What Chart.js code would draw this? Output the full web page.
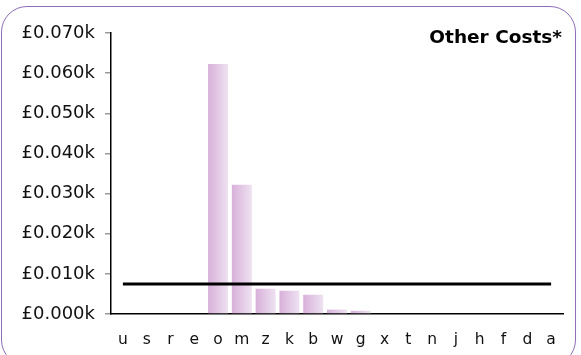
<!DOCTYPE html>
<html>
<head>
<meta charset="utf-8">
<script src="https://cdn.jsdelivr.net/npm/chart.js@4"></script>
<style>
  html, body { margin: 0; padding: 0; background: #fff; }
  #wrap { position: relative; width: 581px; height: 355px; overflow: hidden; }
  #frame {
    position: absolute; left: 1px; top: 6px; width: 575px; height: 360px;
    border: 1.5px solid #8f6db8; border-radius: 26px; box-sizing: border-box;
  }
  canvas { position: absolute; left: 0; top: 0; }
</style>
</head>
<body>
<div id="wrap">
  <div id="frame"></div>
  <canvas id="chart" width="581" height="355"></canvas>
</div>
<script>
const categories = ['u', 's', 'r', 'e', 'o', 'm', 'z', 'k', 'b', 'w', 'g', 'x', 't', 'n', 'j', 'h', 'f', 'd', 'a'];
const costValues = [0, 0, 0, 0, 0.0623, 0.0322, 0.0063, 0.0058, 0.0048, 0.0011, 0.0008, 0, 0, 0, 0, 0, 0, 0, 0];
const averageValue = 0.00746;
const yTicks = [0, 0.01, 0.02, 0.03, 0.04, 0.05, 0.06, 0.07];
const chartTitle = 'Other Costs*';

const averageLine = categories.map(() => averageValue);

const titlePlugin = {
    id: 'cornerTitle',
    afterDraw(chart) {
        const ctx = chart.ctx;
        ctx.save();
        ctx.font = 'bold 18.5px "DejaVu Sans"';
        ctx.fillStyle = '#000';
        ctx.textAlign = 'right';
        ctx.textBaseline = 'middle';
        ctx.fillText(chartTitle, 562, 38);
        ctx.restore();
    }
};

function barGradient(context) {
    const chart = context.chart;
    if (!chart.chartArea) return '#e0c4e3';
    const x = chart.scales.x;
    const center = x.getPixelForValue(context.dataIndex);
    const half = 10;
    const g = chart.ctx.createLinearGradient(center - half, 0, center + half, 0);
    g.addColorStop(0, '#d8b0db');
    g.addColorStop(1, '#eee2f0');
    return g;
}

const ctx = document.getElementById('chart').getContext('2d');
const myChart = new Chart(ctx, {
    data: {
        labels: categories,
        datasets: [{
            type: 'line',
            data: averageLine,
            borderColor: '#000',
            borderWidth: 3,
            pointRadius: 0,
            fill: false,
            order: 0
        }, {
            type: 'bar',
            data: costValues,
            backgroundColor: barGradient,
            borderWidth: 0,
            barPercentage: 0.84,
            categoryPercentage: 1,
            order: 1
        }]
    },
    options: {
        responsive: false,
        animation: false,
        events: [],
        layout: { padding: { left: 0, right: 18, top: 33, bottom: 0 } },
        plugins: {
            legend: { display: false },
            tooltip: { enabled: false }
        },
        scales: {
            x: {
                afterFit(scale) { scale.height = 41; },
                grid: { display: false, drawTicks: false },
                border: { color: '#000', width: 1.5 },
                ticks: {
                    color: '#111',
                    font: { family: 'DejaVu Sans', size: 15.5 },
                    padding: 17,
                    maxRotation: 0,
                    autoSkip: false
                }
            },
            y: {
                min: 0,
                max: 0.07,
                afterFit(scale) { scale.width = 111; },
                afterBuildTicks(scale) { scale.ticks = yTicks.map(v => ({ value: v })); },
                grid: { drawOnChartArea: false, tickLength: 6, color: '#999', lineWidth: 1.5 },
                border: { color: '#000', width: 1.5 },
                ticks: {
                    color: '#111',
                    font: { family: 'DejaVu Sans', size: 18 },
                    padding: 10,
                    callback: v => '£' + Number(v).toFixed(3) + 'k'
                }
            }
        }
    },
    plugins: [titlePlugin]
});
</script>
</body>
</html>
